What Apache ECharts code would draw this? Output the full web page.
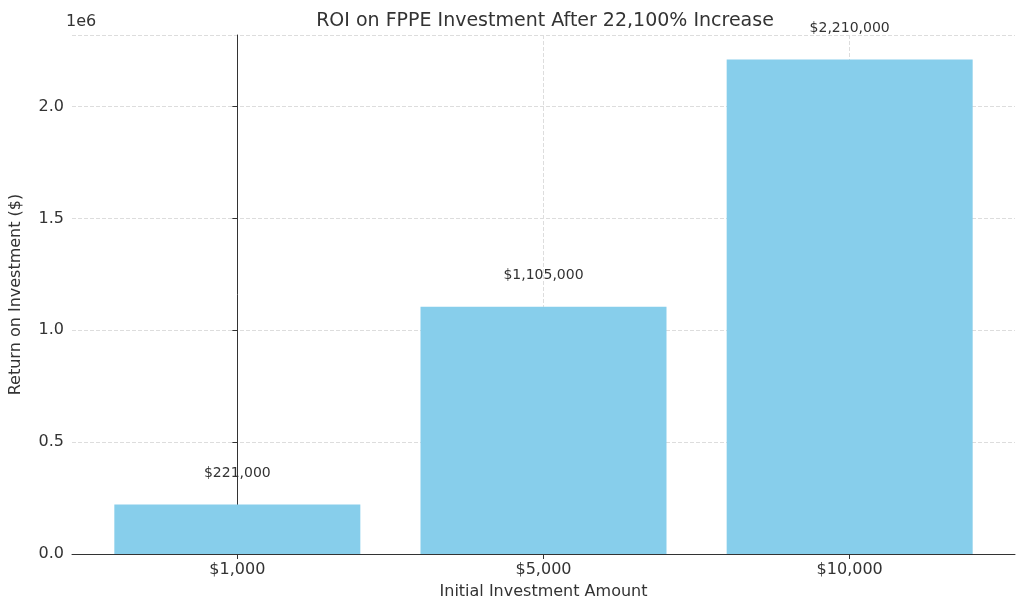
<!DOCTYPE html>
<html><head><meta charset="utf-8">
<script src="https://cdn.jsdelivr.net/npm/echarts@6/dist/echarts.min.js"></script>
<style>html,body{margin:0;padding:0;background:#fff}#c{width:1024px;height:610px}</style>
</head><body><div id="c"></div>
<script>
const categories = ['$1,000', '$5,000', '$10,000'];
const values = [221000, 1105000, 2210000];
const valueLabels = ['$221,000', '$1,105,000', '$2,210,000'];
const yTicks = [0, 500000, 1000000, 1500000, 2000000];

const chart = echarts.init(document.getElementById('c'));
const font = 'DejaVu Sans';
chart.setOption({
  animation: false,
  textStyle: {fontFamily: font},
  title: {text: 'ROI on FPPE Investment After 22,100% Increase', left: 540, top: 7, textAlign: 'center',
    textStyle: {fontFamily: font, fontSize: 19, fontWeight: 'normal', color: '#333'}},
  graphic: [{type: 'text', left: 66, top: 14, style: {text: '1e6', font: '16px DejaVu Sans', fill: '#333'}}],
  grid: {left: 66, right: 9, top: 35, bottom: 56},
  xAxis: {
    type: 'value', min: -0.54, max: 2.54,
    name: 'Initial Investment Amount', nameLocation: 'middle', nameGap: 30,
    nameTextStyle: {fontSize: 16, color: '#333'},
    axisLine: {show: true, onZero: false, lineStyle: {color: '#333'}},
    axisTick: {show: true, customValues: [0, 1, 2], lineStyle: {color: '#333'}},
    axisLabel: {customValues: [0, 1, 2], formatter: v => categories[Math.round(v)], fontSize: 16, color: '#333'},
    splitLine: {show: true, lineStyle: {type: 'dashed', color: '#ddd'}}
  },
  yAxis: {
    type: 'value', min: 0, max: 2320000, interval: 500000,
    name: 'Return on Investment ($)', nameLocation: 'middle', nameGap: 48,
    nameTextStyle: {fontSize: 16, color: '#333'},
    axisLine: {show: true, lineStyle: {color: '#333'}},
    axisTick: {show: true, lineStyle: {color: '#333'}},
    axisLabel: {formatter: v => (v / 1e6).toFixed(1), fontSize: 16, color: '#333', showMaxLabel: false},
    splitLine: {show: true, lineStyle: {type: 'dashed', color: '#ddd'}}
  },
  series: [{
    type: 'bar', barWidth: 246,
    data: values.map((v, i) => [i, v]),
    itemStyle: {color: '#87CEEB'},
    label: {show: true, position: 'top', distance: 24, formatter: p => valueLabels[p.dataIndex],
      fontSize: 14, color: '#333'}
  }]
});
</script></body></html>
